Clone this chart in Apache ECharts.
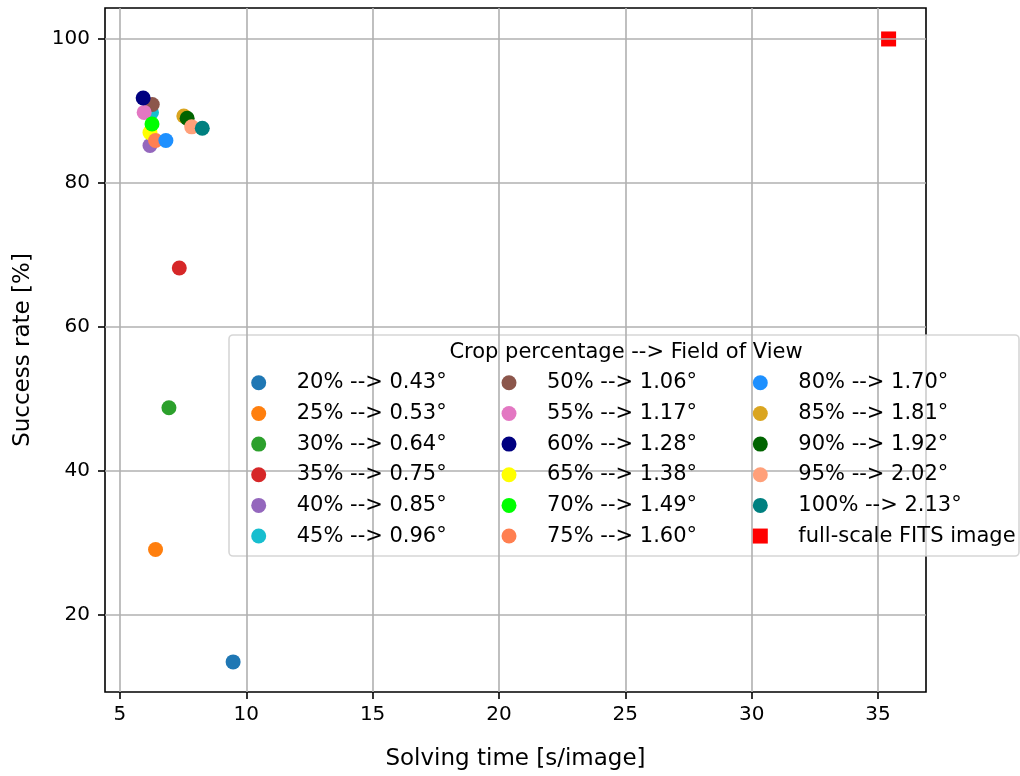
<!DOCTYPE html>
<html>
<head>
<meta charset="utf-8">
<script src="https://cdn.jsdelivr.net/npm/echarts@6/dist/echarts.min.js"></script>
<style>
  html, body { margin: 0; padding: 0; background: #fff; }
  #chart { width: 1020px; height: 776px; }
</style>
</head>
<body>
<div id="chart"></div>
<script>
// Crop levels and the field of view each one gives
const cropLabels = [
  '20% --> 0.43°', '25% --> 0.53°', '30% --> 0.64°', '35% --> 0.75°',
  '40% --> 0.85°', '45% --> 0.96°', '50% --> 1.06°', '55% --> 1.17°',
  '60% --> 1.28°', '65% --> 1.38°', '70% --> 1.49°', '75% --> 1.60°',
  '80% --> 1.70°', '85% --> 1.81°', '90% --> 1.92°', '95% --> 2.02°',
  '100% --> 2.13°'
];
// Mean solving time per image [s]
const solvingTime = [
  9.48, 6.41, 6.94, 7.35, 6.19, 6.25, 6.28, 5.96, 5.92, 6.19, 6.27, 6.41,
  6.82, 7.53, 7.66, 7.84, 8.26
];
// Success rate [%]
const successRate = [
  13.5, 29.1, 48.8, 68.2, 85.2, 89.8, 90.9, 89.8, 91.8, 87.0, 88.2, 85.9,
  85.9, 89.3, 89.0, 87.8, 87.6
];
const cropColors = [
  '#1f77b4', '#ff7f0e', '#2ca02c', '#d62728', '#9467bd', '#17becf',
  '#8c564b', '#e377c2', '#000080', '#ffff00', '#00ff00', '#ff7f50',
  '#1e90ff', '#daa520', '#006400', '#ffa07a', '#008080'
];

// Reference run on the uncropped frame
const fullLabel = 'full-scale FITS image';
const fullTime = 35.42;
const fullRate = 100;

const xTicks = [5, 10, 15, 20, 25, 30, 35];
const yTicks = [20, 40, 60, 80, 100];

const FONT = 'DejaVu Sans';

const series = [{
  // grid lines
  type: 'scatter',
  name: '__grid',
  data: [],
  z: 1,
  silent: true,
  markLine: {
    silent: true,
    symbol: 'none',
    animation: false,
    label: { show: false },
    lineStyle: { color: '#b0b0b0', width: 1.6, type: 'solid' },
    emphasis: { disabled: true },
    data: xTicks.map(v => ({ xAxis: v })).concat(yTicks.map(v => ({ yAxis: v })))
  }
}];

cropLabels.forEach((name, i) => {
  series.push({
    type: 'scatter',
    name: name,
    symbol: 'circle',
    symbolSize: 15,
    itemStyle: { color: cropColors[i], opacity: 1 },
    emphasis: { disabled: true },
    data: [[solvingTime[i], successRate[i]]],
    z: 3
  });
});
series.push({
  type: 'scatter',
  name: fullLabel,
  symbol: 'rect',
  symbolSize: 15,
  itemStyle: { color: '#ff0000', opacity: 1 },
  emphasis: { disabled: true },
  data: [[fullTime, fullRate]],
  z: 3
});

const legendNames = cropLabels.concat([fullLabel]);
const colLefts = [251.2, 501.5, 752.8];
const legends = colLefts.map((left, c) => ({
  orient: 'vertical',
  left: left,
  top: 372.3,
  padding: 0,
  itemWidth: 15,
  itemHeight: 15,
  itemGap: 9.65,
  selectedMode: false,
  z: 10,
  textStyle: {
    fontFamily: FONT,
    fontSize: 21,
    color: '#000',
    lineHeight: 21,
    padding: [0, 0, 0, 25.5]
  },
  data: legendNames.slice(c * 6, c * 6 + 6).map(n => ({
    name: n,
    icon: n === fullLabel ? 'rect' : 'circle'
  }))
}));

const chart = echarts.init(document.getElementById('chart'), null, { renderer: 'canvas' });
chart.setOption({
  animation: false,
  backgroundColor: '#fff',
  grid: {
    left: 105, right: 94, top: 8, bottom: 83,
    show: true, borderColor: '#000', borderWidth: 1.6, backgroundColor: 'transparent',
    containLabel: false
  },
  xAxis: {
    type: 'value',
    min: 4.41,
    max: 36.9,
    name: 'Solving time [s/image]',
    nameLocation: 'middle',
    nameGap: 56,
    nameTextStyle: { fontFamily: FONT, fontSize: 23, color: '#000' },
    axisLine: { show: false },
    splitLine: { show: false },
    axisTick: { show: true, inside: false, length: 7, customValues: xTicks, lineStyle: { color: '#000', width: 1.6 } },
    axisLabel: { customValues: xTicks, margin: 13, fontFamily: FONT, fontSize: 20, color: '#000' }
  },
  yAxis: {
    type: 'value',
    min: 9.32,
    max: 104.3,
    name: 'Success rate [%]',
    nameLocation: 'middle',
    nameGap: 70,
    nameTextStyle: { fontFamily: FONT, fontSize: 23, color: '#000' },
    axisLine: { show: false },
    splitLine: { show: false },
    axisTick: { show: true, inside: false, length: 7, customValues: yTicks, lineStyle: { color: '#000', width: 1.6 } },
    axisLabel: { customValues: yTicks, margin: 15, fontFamily: FONT, fontSize: 20, color: '#000' }
  },
  legend: legends,
  graphic: [
    {
      type: 'rect',
      z: 5,
      shape: { x: 229, y: 335, width: 790, height: 221, r: 4 },
      style: { fill: 'rgba(255,255,255,0.8)', stroke: 'rgba(204,204,204,0.8)', lineWidth: 1.6 }
    },
    {
      type: 'text',
      z: 6,
      x: 626,
      y: 353,
      style: {
        text: 'Crop percentage --> Field of View',
        font: '21px "DejaVu Sans"',
        fill: '#000',
        textAlign: 'center',
        textVerticalAlign: 'middle'
      }
    }
  ],
  series: series
});
</script>
</body>
</html>
